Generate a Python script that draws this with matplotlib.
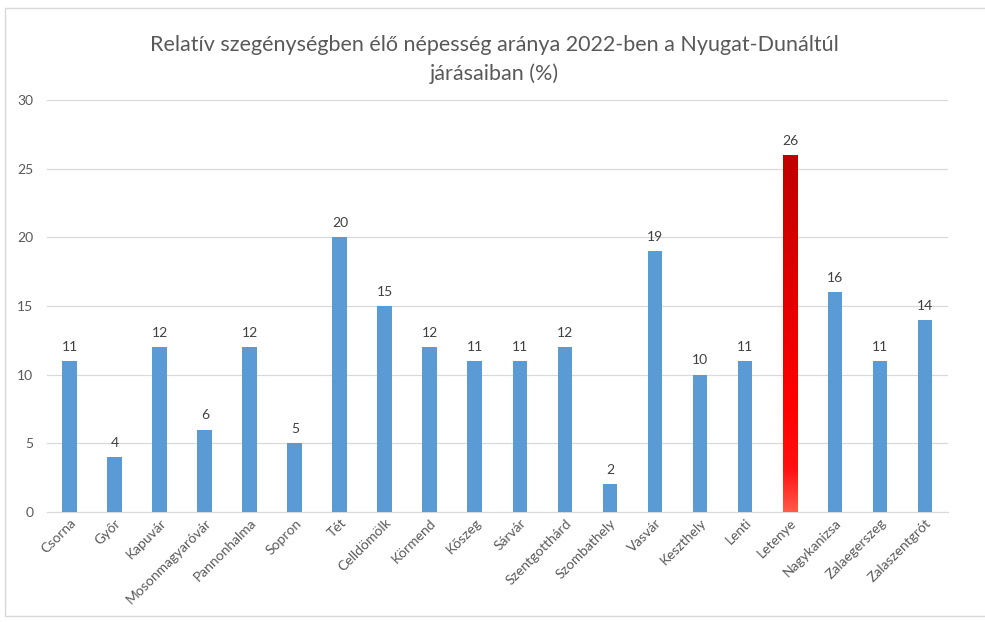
import numpy as np
import matplotlib
matplotlib.use("Agg")
import matplotlib.pyplot as plt
from matplotlib.patches import Rectangle

plt.rcParams["font.family"] = ["Lato", "DejaVu Sans"]

# ---- data ----
DISTRICTS = ["Csorna", "Győr", "Kapuvár", "Mosonmagyaróvár", "Pannonhalma",
             "Sopron", "Tét", "Celldömölk", "Körmend", "Kőszeg", "Sárvár",
             "Szentgotthárd", "Szombathely", "Vasvár", "Keszthely", "Lenti",
             "Letenye", "Nagykanizsa", "Zalaegerszeg", "Zalaszentgrót"]
VALUES = [11, 4, 12, 6, 12, 5, 20, 15, 12, 11, 11, 12, 2, 19, 10, 11, 26, 16, 11, 14]
HIGHLIGHT = "Letenye"

TITLE = "Relatív szegénységben élő népesség aránya 2022-ben a Nyugat-Dunáltúl\njárásaiban (%)"

BLUE = "#5B9BD5"
TXT = "#595959"

fig = plt.figure(figsize=(9.85, 6.22), dpi=100)
# light frame around the whole chart
fig.add_artist(Rectangle((0.005, 0.01), 1.2, 0.977, transform=fig.transFigure,
                         fill=False, edgecolor="#D9D9D9", lw=1))

ax = fig.add_axes([0.048, 0.177, 0.914, 0.662])
x = np.arange(len(DISTRICTS))
w = 0.33
colors = [BLUE if d != HIGHLIGHT else "none" for d in DISTRICTS]
bars = ax.bar(x, VALUES, width=w, color=colors, zorder=3)

# gradient for the highlighted bar
cmap = matplotlib.colors.LinearSegmentedColormap.from_list(
    "redgrad", [(0, "#FF5A4A"), (0.12, "#FF1010"), (0.3, "#FF0000"), (1, "#BF0000")])
i = DISTRICTS.index(HIGHLIGHT)
grad = np.linspace(0, 1, 256).reshape(-1, 1)
ax.imshow(grad, cmap=cmap, origin="lower", aspect="auto",
          extent=(x[i] - w / 2, x[i] + w / 2, 0, VALUES[i]), zorder=3)

for xi, v in zip(x, VALUES):
    ax.text(xi, v + 0.6, str(v), ha="center", va="bottom", fontsize=10, color="#404040")

ax.set_xlim(-0.5, len(DISTRICTS) - 0.5)
ax.set_ylim(0, 30)
ax.set_yticks(range(0, 31, 5))
ax.yaxis.grid(True, color="#D9D9D9", lw=0.9, zorder=0)
ax.set_axisbelow(True)
for s in ["top", "right", "left"]:
    ax.spines[s].set_visible(False)
ax.spines["bottom"].set_color("#D9D9D9")
ax.tick_params(axis="both", length=0, colors=TXT, labelsize=10)
ax.tick_params(axis="y", pad=10)
ax.set_xticks(x)
ax.set_xticklabels(DISTRICTS, rotation=45, ha="right", rotation_mode="anchor")

fig.text(0.502, 0.905, TITLE, ha="center", va="center", fontsize=15.5,
         color=TXT, linespacing=1.5)

plt.savefig("out.png", dpi=100)
plt.close()
